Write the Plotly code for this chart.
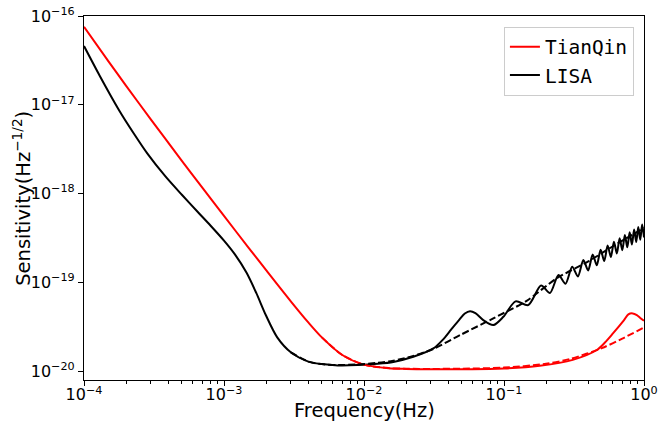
import plotly.graph_objects as go

# ---- data ----
tq_freq = [1e-4, 1.5e-4, 2e-4, 3e-4, 5e-4, 7e-4, 1e-3, 1.5e-3, 2e-3, 3e-3, 4e-3, 5e-3,
           7e-3, 1e-2, 1.5e-2, 2e-2, 3e-2, 5e-2, 0.1, 0.18, 0.31, 0.46, 0.526, 0.6,
           0.72, 0.773, 0.83, 0.889, 0.936, 1.0]
tq_sens = [7.55e-17, 3.06e-17, 1.635e-17, 6.85e-18, 2.34e-18, 1.165e-18, 5.6e-19, 2.45e-19,
           1.372e-19, 6.12e-20, 3.54e-20, 2.4e-20, 1.52e-20, 1.183e-20, 1.08e-20, 1.06e-20,
           1.05e-20, 1.05e-20, 1.07e-20, 1.15e-20, 1.34e-20, 1.73e-20, 2.1e-20, 2.66e-20,
           3.76e-20, 4.36e-20, 4.47e-20, 4.28e-20, 4.0e-20, 3.69e-20]

tq_fit_freq = [5e-3, 7e-3, 1e-2, 1.5e-2, 2e-2, 3e-2, 5e-2, 0.1, 0.2, 0.3, 0.5, 0.7, 1.0]
tq_fit_sens = [2.4e-20, 1.52e-20, 1.183e-20, 1.081e-20, 1.064e-20, 1.059e-20, 1.065e-20,
               1.095e-20, 1.209e-20, 1.378e-20, 1.817e-20, 2.326e-20, 3.1e-20]

lisa_freq = [1e-4, 1.3e-4, 1.78e-4, 2.3e-4, 2.83e-4, 3.83e-4, 5e-4, 6.5e-4, 8e-4, 1.0e-3,
             1.2e-3, 1.45e-3, 1.7e-3, 2.0e-3, 2.4e-3, 3.0e-3, 4.0e-3, 5.0e-3, 6.5e-3, 9e-3,
             0.0125, 0.0162, 0.0225, 0.0313, 0.0365, 0.042, 0.048, 0.0525, 0.0572, 0.0625,
             0.0711, 0.0839, 0.0989, 0.121, 0.149, 0.184, 0.213, 0.245, 0.275, 0.307, 0.337,
             0.369, 0.399, 0.43, 0.46, 0.49, 0.52, 0.55, 0.58, 0.61, 0.64, 0.67, 0.70, 0.73,
             0.76, 0.79, 0.82, 0.85, 0.88, 0.91, 0.94, 0.97, 1.0]
lisa_sens = [4.59e-17, 2.1e-17, 8.7e-18, 4.6e-18, 2.84e-18, 1.55e-18, 9.7e-19, 6.2e-19,
             4.37e-19, 2.95e-19, 2.05e-19, 1.28e-19, 7.6e-20, 4.2e-20, 2.4e-20, 1.63e-20,
             1.28e-20, 1.2e-20, 1.16e-20, 1.17e-20, 1.21e-20, 1.27e-20, 1.45e-20, 1.8e-20,
             2.25e-20, 2.95e-20, 3.8e-20, 4.45e-20, 4.74e-20, 4.5e-20,
             3.76e-20, 3.3e-20, 4.09e-20, 6.1e-20, 5.55e-20,
             9.2e-20, 7.6e-20, 1.21e-19, 9.64e-20, 1.50e-19, 1.164e-19, 1.78e-19, 1.36e-19,
             2.06e-19, 1.555e-19, 2.33e-19, 1.74e-19, 2.60e-19, 1.93e-19, 2.87e-19, 2.11e-19,
             3.14e-19, 2.30e-19, 3.41e-19, 2.48e-19, 3.67e-19, 2.66e-19, 3.94e-19, 2.84e-19,
             4.20e-19, 3.02e-19, 4.47e-19, 3.20e-19]

lisa_fit_freq = [3e-3, 4e-3, 5e-3, 6.5e-3, 9e-3, 0.0125, 0.0162, 0.0225, 0.0313, 0.0487,
                 0.0839, 0.145, 0.238, 0.4, 0.6, 1.0]
lisa_fit_sens = [1.63e-20, 1.28e-20, 1.2e-20, 1.17e-20, 1.19e-20, 1.24e-20, 1.31e-20,
                 1.48e-20, 1.78e-20, 2.55e-20, 3.93e-20, 6.19e-20, 1.11e-19, 1.72e-19,
                 2.55e-19, 4.1e-19]

x_ticks = [1e-4, 1e-3, 1e-2, 1e-1, 1]
x_ticktext = ["10<sup>−4</sup>", "10<sup>−3</sup>", "10<sup>−2</sup>", "10<sup>−1</sup>", "10<sup>0</sup>"]
y_ticks = [1e-20, 1e-19, 1e-18, 1e-17, 1e-16]
y_ticktext = ["10<sup>−20</sup>", "10<sup>−19</sup>", "10<sup>−18</sup>", "10<sup>−17</sup>", "10<sup>−16</sup>"]
x_title = "Frequency(Hz)"
y_title = "Sensitivity(Hz<sup>−1/2</sup>)"

minor_x = []
for dec in [1e-4, 1e-3, 1e-2, 1e-1]:
    for m in range(2, 10):
        minor_x.append(m * dec)

fig = go.Figure()
fig.add_trace(go.Scatter(x=tq_freq, y=tq_sens, mode="lines", name="TianQin",
                         legendgroup="a",
                         line=dict(color="#ff0000", width=2, shape="spline", smoothing=0.8)))
fig.add_trace(go.Scatter(x=lisa_freq, y=lisa_sens, mode="lines", name="LISA",
                         legendgroup="b",
                         line=dict(color="black", width=2, shape="spline", smoothing=0.8)))
fig.add_trace(go.Scatter(x=tq_fit_freq, y=tq_fit_sens, mode="lines", showlegend=False,
                         line=dict(color="#ff0000", width=2, dash="7px,3px", shape="spline", smoothing=0.8)))
fig.add_trace(go.Scatter(x=lisa_fit_freq, y=lisa_fit_sens, mode="lines", showlegend=False,
                         line=dict(color="black", width=2, dash="7px,3px", shape="spline", smoothing=0.8)))

fig.update_layout(
    width=659, height=422,
    margin=dict(l=84, r=15, t=16, b=42),
    plot_bgcolor="white", paper_bgcolor="white",
    font=dict(family="DejaVu Sans", color="black"),
    legend=dict(x=0.982, y=0.971, xanchor="right", yanchor="top",
                bgcolor="rgba(255,255,255,0.8)", bordercolor="#cccccc", borderwidth=1,
                font=dict(family="DejaVu Sans Mono", size=19.5), tracegroupgap=0),
    annotations=[
        dict(text=x_title, xref="paper", yref="paper", x=0.5, y=-0.084,
             xanchor="center", yanchor="middle", showarrow=False, font=dict(size=19.5)),
        dict(text=y_title, xref="paper", yref="paper", x=-0.111, y=0.5, textangle=-90,
             xanchor="center", yanchor="middle", showarrow=False, font=dict(size=19.5)),
    ],
)
fig.update_xaxes(
    type="log", range=[-4, 0], tickmode="array", tickvals=x_ticks, ticktext=x_ticktext,
    automargin=False, ticklabelstandoff=-5,
    showline=True, linecolor="black", linewidth=1.2, mirror=True,
    ticks="outside", ticklen=5, tickwidth=1, tickcolor="black",
    tickfont=dict(size=16), showgrid=False, zeroline=False,
    minor=dict(tickmode="array", tickvals=minor_x, ticks="outside", ticklen=3,
               tickwidth=0.8, tickcolor="black", showgrid=False),
)
fig.update_yaxes(
    type="log", range=[-20.1, -16], tickmode="array", tickvals=y_ticks, ticktext=y_ticktext,
    automargin=False,
    showline=True, linecolor="black", linewidth=1.2, mirror=True,
    ticks="outside", ticklen=5, tickwidth=1, tickcolor="black",
    tickfont=dict(size=16), showgrid=False, zeroline=False,
)

fig.write_html("out.html", config={"displayModeBar": False},
               post_script="document.body.style.margin='0';document.body.style.overflow='hidden';")
